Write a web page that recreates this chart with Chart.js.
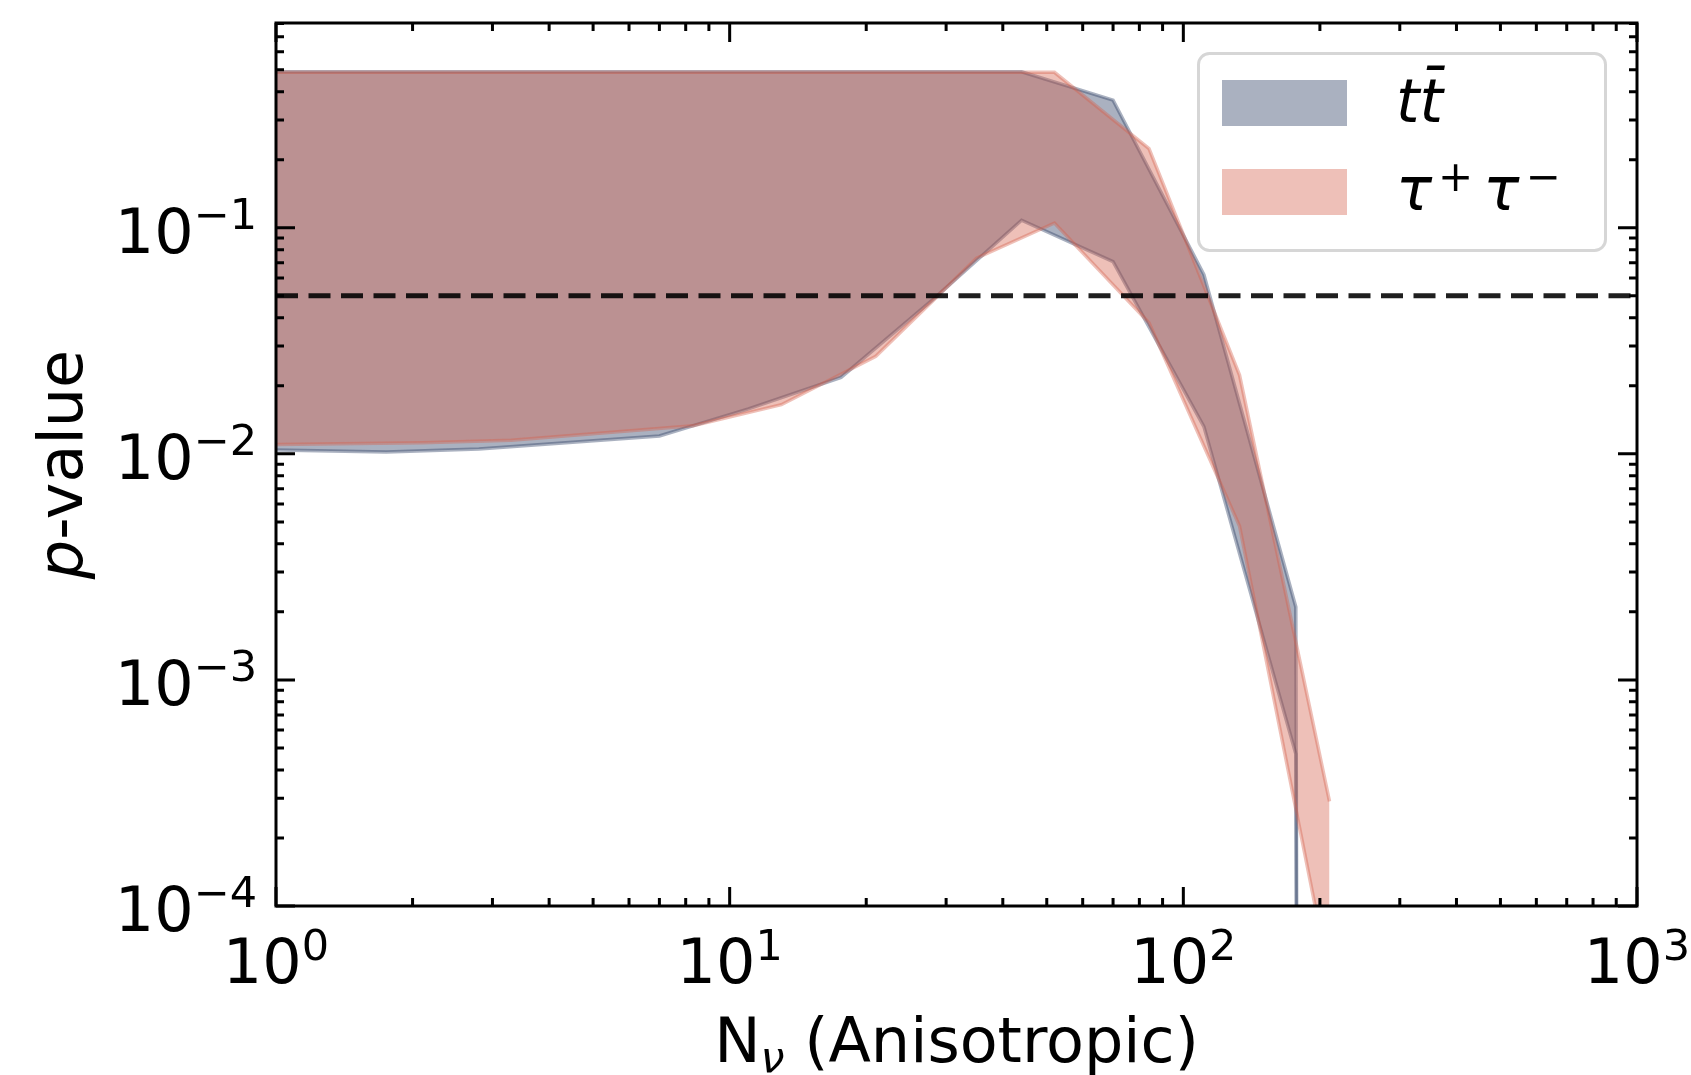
<!DOCTYPE html>
<html>
<head>
<meta charset="utf-8">
<script src="https://cdn.jsdelivr.net/npm/chart.js@4.4.1/dist/chart.umd.min.js"></script>
<style>
html,body{margin:0;padding:0;background:#ffffff;}
#wrap{width:1691px;height:1075px;position:relative;}
</style>
</head>
<body>
<div id="wrap"><canvas id="c" width="1691" height="1075"></canvas></div>
<script>
// ---------------- data ----------------
const ttN      = [1, 1.75, 2.8, 7.0, 11, 17.6, 28, 44, 70, 111, 177, 280];
const ttUpper  = [0.49, 0.49, 0.49, 0.49, 0.49, 0.49, 0.49, 0.49, 0.367, 0.062, 0.0021, 0];
const ttLower  = [0.0104, 0.0102, 0.0105, 0.0120, 0.0158, 0.0218, 0.048, 0.108, 0.0708, 0.0132, 0.00047, 0];

const tauN     = [1, 2.1, 3.3, 8.3, 13, 21, 35, 52, 84, 133, 210];
const tauUpper = [0.487, 0.487, 0.487, 0.487, 0.487, 0.487, 0.487, 0.487, 0.224, 0.0223, 0.00029];
const tauLower = [0.0110, 0.0112, 0.0115, 0.0133, 0.0165, 0.027, 0.0733, 0.105, 0.038, 0.0048, 0.000048];

const threshold = 0.05;
const xLimits = [1, 1000];
const yLimits = [1e-4, 0.805];

const xMajorTicks = [1, 10, 100, 1000];
const xTickLabels = [['10', '0'], ['10', '1'], ['10', '2'], ['10', '3']];
const yMajorTicks = [1e-4, 1e-3, 1e-2, 1e-1];
const yTickLabels = [['10', '\u22124'], ['10', '\u22123'], ['10', '\u22122'], ['10', '\u22121']];
const minorMultipliers = [2, 3, 4, 5, 6, 7, 8, 9];

const seriesNames = ['tt\u0304', 'tau'];
const xTitle = ['N', '\u03BD', ' (Anisotropic)'];
const yTitle = ['p', '-value'];

// ---------------- styling ----------------
const TT_COLOR  = 'rgba(42,60,97,0.4)';
const TAU_COLOR = 'rgba(212,97,77,0.4)';
const FONT = '"DejaVu Sans", "Liberation Sans", sans-serif';
const fnt = (size, italic) => (italic ? 'italic ' : '') + size + 'px ' + FONT;

// matplotlib clips non-positive values on a log axis to a tiny positive number
const toPts = (xs, ys) => xs.map((x, i) => ({x: x, y: ys[i] > 0 ? ys[i] : 1e-300}));

function drawRich(ctx, parts, x, y, align) {
  let total = 0;
  const ws = parts.map(p => {
    ctx.font = p.font;
    const w = ctx.measureText(p.text).width + (p.gap || 0);
    total += w;
    return w;
  });
  let cx = align === 'center' ? x - total / 2 : (align === 'right' ? x - total : x);
  ctx.textAlign = 'left';
  ctx.textBaseline = 'alphabetic';
  parts.forEach((p, i) => {
    ctx.font = p.font;
    ctx.fillText(p.text, cx + (p.dx || 0), y + (p.dy || 0));
    cx += ws[i];
  });
}

const decor = {
  id: 'decor',
  afterDraw(chart) {
    const {ctx, chartArea: a, scales} = chart;
    const xs = scales.x, ys = scales.y;
    ctx.save();
    ctx.strokeStyle = '#000';
    ctx.fillStyle = '#000';
    ctx.lineCap = 'butt';
    ctx.lineWidth = 3;
    const MAJ = 19, MIN = 8;

    const xTicks = [];
    xMajorTicks.forEach((v, i) => {
      xTicks.push([v, true]);
      if (i < xMajorTicks.length - 1) minorMultipliers.forEach(m => xTicks.push([v * m, false]));
    });
    xTicks.forEach(([v, maj]) => {
      const px = xs.getPixelForValue(v);
      if (px < a.left - 0.5 || px > a.right + 0.5) return;
      const L = maj ? MAJ : MIN;
      ctx.beginPath();
      ctx.moveTo(px, a.bottom); ctx.lineTo(px, a.bottom - L);
      ctx.moveTo(px, a.top); ctx.lineTo(px, a.top + L);
      ctx.stroke();
    });

    const yTicks = [];
    yMajorTicks.forEach(v => {
      yTicks.push([v, true]);
      minorMultipliers.forEach(m => { if (v * m <= yLimits[1]) yTicks.push([v * m, false]); });
    });
    yTicks.forEach(([v, maj]) => {
      const py = ys.getPixelForValue(v);
      if (py < a.top - 0.5 || py > a.bottom + 0.5) return;
      const L = maj ? MAJ : MIN;
      ctx.beginPath();
      ctx.moveTo(a.left, py); ctx.lineTo(a.left + L, py);
      ctx.moveTo(a.right, py); ctx.lineTo(a.right - L, py);
      ctx.stroke();
    });

    // frame
    ctx.strokeRect(a.left, a.top, a.right - a.left, a.bottom - a.top);

    // tick labels
    xMajorTicks.forEach((v, i) => {
      const px = xs.getPixelForValue(v);
      drawRich(ctx, [
        {text: xTickLabels[i][0], font: fnt(62)},
        {text: xTickLabels[i][1], font: fnt(43), dy: -23}
      ], px, a.bottom + 77, 'center');
    });
    yMajorTicks.forEach((v, i) => {
      const py = ys.getPixelForValue(v);
      drawRich(ctx, [
        {text: yTickLabels[i][0], font: fnt(62)},
        {text: yTickLabels[i][1], font: fnt(43), dy: -24}
      ], a.left - 19, py + 25, 'right');
    });

    // axis titles
    drawRich(ctx, [
      {text: xTitle[0], font: fnt(62)},
      {text: xTitle[1], font: fnt(43, true), dy: 10},
      {text: xTitle[2], font: fnt(62)}
    ], (a.left + a.right) / 2, 1062, 'center');

    ctx.save();
    ctx.translate(82, (a.top + a.bottom) / 2);
    ctx.rotate(-Math.PI / 2);
    drawRich(ctx, [
      {text: yTitle[0], font: fnt(62, true)},
      {text: yTitle[1], font: fnt(62)}
    ], 0, 0, 'center');
    ctx.restore();

    // legend
    const bx = 1198.5, by = 53.5, bw = 407, bh = 197, r = 11;
    ctx.beginPath();
    ctx.moveTo(bx + r, by);
    ctx.arcTo(bx + bw, by, bx + bw, by + bh, r);
    ctx.arcTo(bx + bw, by + bh, bx, by + bh, r);
    ctx.arcTo(bx, by + bh, bx, by, r);
    ctx.arcTo(bx, by, bx + bw, by, r);
    ctx.closePath();
    ctx.fillStyle = 'rgba(255,255,255,0.8)';
    ctx.fill();
    ctx.strokeStyle = 'rgba(204,204,204,0.8)';
    ctx.lineWidth = 3;
    ctx.stroke();

    const ds = chart.data.datasets;
    ctx.fillStyle = ds[0].backgroundColor;
    ctx.fillRect(1222, 80, 125, 46);
    ctx.fillStyle = ds[2].backgroundColor;
    ctx.fillRect(1222, 169, 125, 46);

    ctx.fillStyle = '#000';
    drawRich(ctx, [{text: seriesNames[0], font: fnt(60, true)}], 1396, 122, 'left');
    drawRich(ctx, [
      {text: '\u03C4', font: fnt(60, true), gap: 6},
      {text: '+', font: fnt(42), dy: -19, gap: 10},
      {text: '\u03C4', font: fnt(60, true), gap: 6},
      {text: '\u2212', font: fnt(42), dy: -19}
    ], 1396, 210, 'left');

    ctx.restore();
  }
};

new Chart(document.getElementById('c'), {
  type: 'line',
  data: {
    datasets: [
      {label: 'ttbar upper', data: toPts(ttN, ttUpper), fill: '+1', order: 4, clip: 0,
       backgroundColor: TT_COLOR, borderColor: TT_COLOR, borderWidth: 3.5},
      {label: 'ttbar lower', data: toPts(ttN, ttLower), fill: false, order: 3, clip: 0,
       backgroundColor: TT_COLOR, borderColor: TT_COLOR, borderWidth: 3.5},
      {label: 'tau upper', data: toPts(tauN, tauUpper), fill: '+1', order: 2, clip: 0,
       backgroundColor: TAU_COLOR, borderColor: TAU_COLOR, borderWidth: 3.5},
      {label: 'tau lower', data: toPts(tauN, tauLower), fill: false, order: 1, clip: 0,
       backgroundColor: TAU_COLOR, borderColor: TAU_COLOR, borderWidth: 3.5},
      {label: 'p = 0.05', data: [{x: xLimits[0], y: threshold}, {x: xLimits[1], y: threshold}],
       fill: false, order: 0, clip: 0, borderColor: 'rgba(0,0,0,0.88)', borderWidth: 5,
       borderDash: [22, 10.5]}
    ]
  },
  options: {
    responsive: false,
    animation: false,
    devicePixelRatio: 1,
    parsing: true,
    layout: {padding: {left: 276, right: 54, top: 23, bottom: 169}},
    scales: {
      x: {type: 'logarithmic', min: xLimits[0], max: xLimits[1], display: false},
      y: {type: 'logarithmic', min: yLimits[0], max: yLimits[1], display: false}
    },
    elements: {point: {radius: 0, hoverRadius: 0}, line: {tension: 0}},
    plugins: {legend: {display: false}, tooltip: {enabled: false}}
  },
  plugins: [decor]
});
</script>
</body>
</html>
